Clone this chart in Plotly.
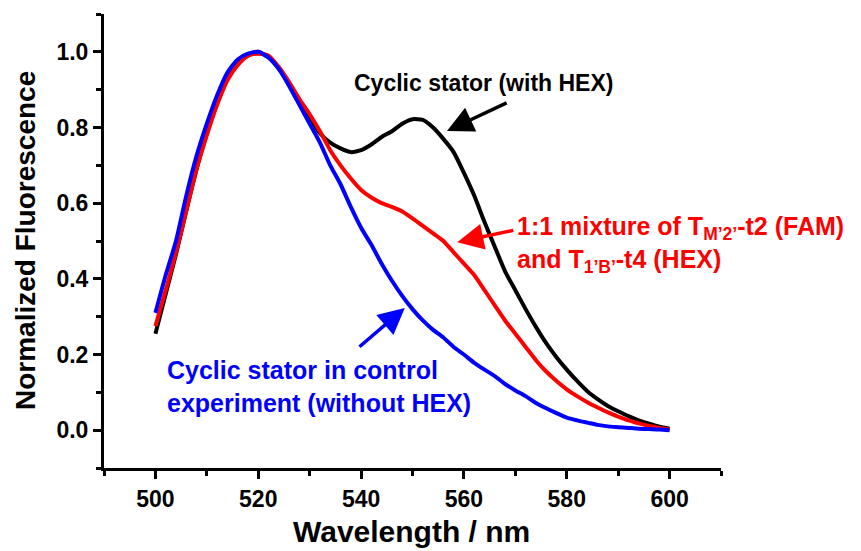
import plotly.graph_objects as go

wavelength = list(range(500, 602, 2))

with_hex = [0.255, 0.36, 0.465, 0.58, 0.69, 0.785, 0.865, 0.93, 0.97, 0.99,
            1.0, 0.985, 0.955, 0.915, 0.87, 0.825, 0.785, 0.76, 0.745, 0.735,
            0.74, 0.755, 0.775, 0.79, 0.81, 0.822, 0.82, 0.80, 0.77, 0.735,
            0.68, 0.62, 0.55, 0.485, 0.42, 0.37, 0.32, 0.273, 0.23, 0.193,
            0.16, 0.13, 0.103, 0.082, 0.064, 0.05, 0.037, 0.026, 0.017, 0.009,
            0.004]

mixture = [0.275, 0.37, 0.47, 0.58, 0.69, 0.78, 0.86, 0.925, 0.965, 0.99,
           0.995, 0.99, 0.96, 0.92, 0.875, 0.835, 0.79, 0.74, 0.70, 0.665,
           0.635, 0.615, 0.60, 0.59, 0.578, 0.56, 0.54, 0.52, 0.50, 0.47,
           0.44, 0.41, 0.37, 0.33, 0.29, 0.255, 0.22, 0.185, 0.155, 0.13,
           0.108, 0.09, 0.074, 0.06, 0.047, 0.036, 0.026, 0.018, 0.011, 0.006,
           0.002]

control = [0.31, 0.41, 0.50, 0.62, 0.725, 0.81, 0.885, 0.945, 0.98, 0.995,
           1.0, 0.985, 0.955, 0.91, 0.86, 0.81, 0.76, 0.70, 0.65, 0.59,
           0.535, 0.49, 0.44, 0.395, 0.355, 0.32, 0.29, 0.265, 0.245, 0.22,
           0.20, 0.178, 0.16, 0.143, 0.122, 0.105, 0.09, 0.072, 0.058, 0.045,
           0.033, 0.026, 0.02, 0.014, 0.01, 0.008, 0.006, 0.004, 0.003, 0.002,
           0.0]

series_names = ["Cyclic stator (with HEX)",
                "1:1 mixture of T<sub>M’2’</sub>-t2 (FAM)<br>and T<sub>1’B’</sub>-t4 (HEX)",
                "Cyclic stator in control<br>experiment (without HEX)"]
series_values = [with_hex, mixture, control]
series_colors = ["#000000", "#ff0000", "#0000ff"]

x_major = [500, 520, 540, 560, 580, 600]
x_minor = [490, 510, 530, 550, 570, 590, 610]
y_major = [0, 0.2, 0.4, 0.6, 0.8, 1.0]
y_minor = [-0.1, 0.1, 0.3, 0.5, 0.7, 0.9, 1.1]
x_title = "Wavelength / nm"
y_title = "Normalized Fluorescence"

FONT = "Liberation Sans, Arial, sans-serif"

fig = go.Figure()
for vals, col in zip(series_values, series_colors):
    fig.add_trace(go.Scatter(x=wavelength, y=vals, mode="lines",
                             line=dict(color=col, width=4, shape="spline", smoothing=0.6),
                             showlegend=False, hoverinfo="skip"))

# text labels
label_pos = [(563.9, 0.918, "center", 23), (569.9, 0.4895, "left", 25), (501.9, 0.1155, "left", 25)]
for name, col, (lx, ly, anc, fs) in zip(series_names, series_colors, label_pos):
    fig.add_annotation(x=lx, y=ly, xref="x", yref="y", text="<b>" + name + "</b>",
                       showarrow=False, xanchor=anc, yanchor="middle", align=anc,
                       font=dict(family=FONT, size=fs, color=col))

# arrows: head point, tail point
arrows = [((556.7, 0.791), (568.6, 0.867)),
          ((558.7, 0.497), (569.9, 0.529)),
          ((548.5, 0.323), (539.4, 0.217))]
for ((hx, hy), (tx, ty)), col in zip(arrows, series_colors):
    fig.add_annotation(x=hx, y=hy, ax=tx, ay=ty, xref="x", yref="y", axref="x", ayref="y",
                       text="", showarrow=True, arrowhead=2, arrowsize=1.5, arrowwidth=3.5,
                       arrowcolor=col)

# axis titles
fig.add_annotation(x=0.4976, y=-0.1388, xref="paper", yref="paper", text="<b>" + x_title + "</b>",
                   showarrow=False, xanchor="center", yanchor="middle",
                   font=dict(family=FONT, size=30, color="black"))
fig.add_annotation(x=-0.128, y=0.5, xref="paper", yref="paper", text="<b>" + y_title + "</b>",
                   showarrow=False, xanchor="center", yanchor="middle", textangle=-90,
                   font=dict(family=FONT, size=28, color="black"))

fig.update_layout(
    width=861, height=551,
    margin=dict(l=104, r=140, t=14, b=83),
    paper_bgcolor="white", plot_bgcolor="white",
    font=dict(family=FONT, color="black"),
)
fig.update_xaxes(
    range=[490, 610], showgrid=False, zeroline=False, automargin=False,
    showline=True, linewidth=3, linecolor="black",
    ticks="outside", tickvals=x_major, ticktext=[f"<b>{v}</b>" for v in x_major],
    ticklen=8, tickwidth=2.5, tickcolor="black",
    tickfont=dict(family=FONT, size=23, color="black"),
    minor=dict(tickvals=x_minor, ticks="outside", ticklen=5, tickwidth=2.5, tickcolor="black"),
)
fig.update_yaxes(
    range=[-0.1, 1.1], showgrid=False, zeroline=False, automargin=False,
    showline=True, linewidth=3, linecolor="black",
    ticks="outside", tickvals=y_major, ticktext=[f"<b>{v:.1f}</b>" for v in y_major],
    ticklen=8, tickwidth=2.5, tickcolor="black",
    tickfont=dict(family=FONT, size=23, color="black"),
    minor=dict(tickvals=y_minor, ticks="outside", ticklen=5, tickwidth=2.5, tickcolor="black"),
)

fig.write_html("out.html", config={"displayModeBar": False},
               post_script="document.body.style.margin='0px';document.body.style.overflow='hidden';")
